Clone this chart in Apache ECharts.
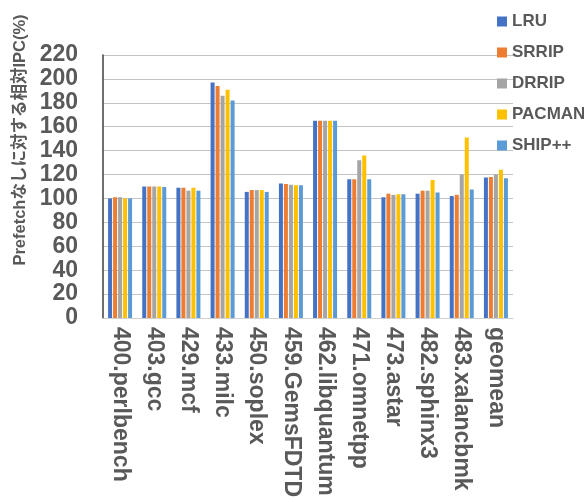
<!DOCTYPE html>
<html>
<head>
<meta charset="utf-8">
<script src="https://cdn.jsdelivr.net/npm/echarts@6/dist/echarts.min.js"></script>
<style>
  html, body { margin: 0; padding: 0; background: #fff; }
  #chart { width: 584px; height: 502px; }
</style>
</head>
<body>
<div id="chart"></div>
<script>
// Benchmarks on the category axis
const categories = [
  '400.perlbench', '403.gcc', '429.mcf', '433.milc', '450.soplex',
  '459.GemsFDTD', '462.libquantum', '471.omnetpp', '473.astar',
  '482.sphinx3', '483.xalancbmk', 'geomean'
];

// Relative IPC (%) per replacement policy
const lru    = [100, 110, 109, 197, 105.5, 112.5, 165, 116, 101, 104, 102, 117.5];
const srrip  = [101, 110, 109, 194, 107, 112, 165, 116, 104, 106.5, 103, 118];
const drrip  = [101, 110, 106.5, 186, 107, 111.5, 165, 132, 103, 106.5, 120, 120];
const pacman = [100, 110, 109, 191, 107, 111, 165, 136, 103.5, 115.5, 151, 124];
const shipPP = [100, 109.5, 106.5, 182, 105.5, 111, 165, 116, 103.5, 105, 107.5, 117];

const seriesNames = ['LRU', 'SRRIP', 'DRRIP', 'PACMAN', 'SHIP++'];
const seriesValues = [lru, srrip, drrip, pacman, shipPP];
const seriesColors = ['#4472C4', '#ED7D31', '#A5A5A5', '#FFC000', '#5B9BD5'];

// Y axis ticks
const yMin = 0, yMax = 220, yStep = 20;

const yTitle = 'Prefetchなしに対する相対IPC(%)';
const font = '"Liberation Sans", "Noto Sans CJK JP", sans-serif';

const chart = echarts.init(document.getElementById('chart'), null, { renderer: 'canvas' });

chart.setOption({
  animation: false,
  backgroundColor: '#ffffff',
  grid: { left: 103, right: 71, top: 55, bottom: 184, containLabel: false },
  legend: {
    orient: 'vertical',
    left: 492,
    top: 8,
    itemWidth: 10,
    itemHeight: 10,
    itemGap: 14,
    icon: 'rect',
    data: seriesNames,
    textStyle: { fontFamily: font, fontSize: 17, fontWeight: 'bold', color: '#595959', lineHeight: 17, padding: [0, 0, 0, 0] }
  },
  xAxis: {
    type: 'category',
    data: categories,
    axisLine: { show: true, lineStyle: { color: '#d0d0d0', width: 1 } },
    axisTick: { show: false },
    axisLabel: {
      rotate: -90,
      interval: 0,
      margin: 9,
      fontFamily: font,
      fontSize: 23,
      fontWeight: 'bold',
      color: '#595959'
    }
  },
  yAxis: {
    type: 'value',
    min: yMin,
    max: yMax,
    interval: yStep,
    axisLine: { show: true, lineStyle: { color: '#404040', width: 1.5 } },
    axisTick: { show: false },
    splitLine: { show: true, lineStyle: { color: '#c4c4c4', width: 1.2 } },
    axisLabel: {
      margin: 25,
      fontFamily: font,
      fontSize: 23,
      fontWeight: 'bold',
      color: '#595959'
    }
  },
  graphic: [{
    type: 'text',
    x: 20,
    y: 140,
    rotation: Math.PI / 2,
    style: {
      text: yTitle,
      fontFamily: font,
      fontSize: 16.5,
      fontWeight: 'bold',
      fill: '#595959',
      align: 'center',
      verticalAlign: 'middle'
    }
  }],
  series: seriesNames.map((name, i) => ({
    name: name,
    type: 'bar',
    data: seriesValues[i],
    barWidth: 4,
    barGap: '25%',
    itemStyle: { color: seriesColors[i] }
  }))
});
</script>
</body>
</html>
